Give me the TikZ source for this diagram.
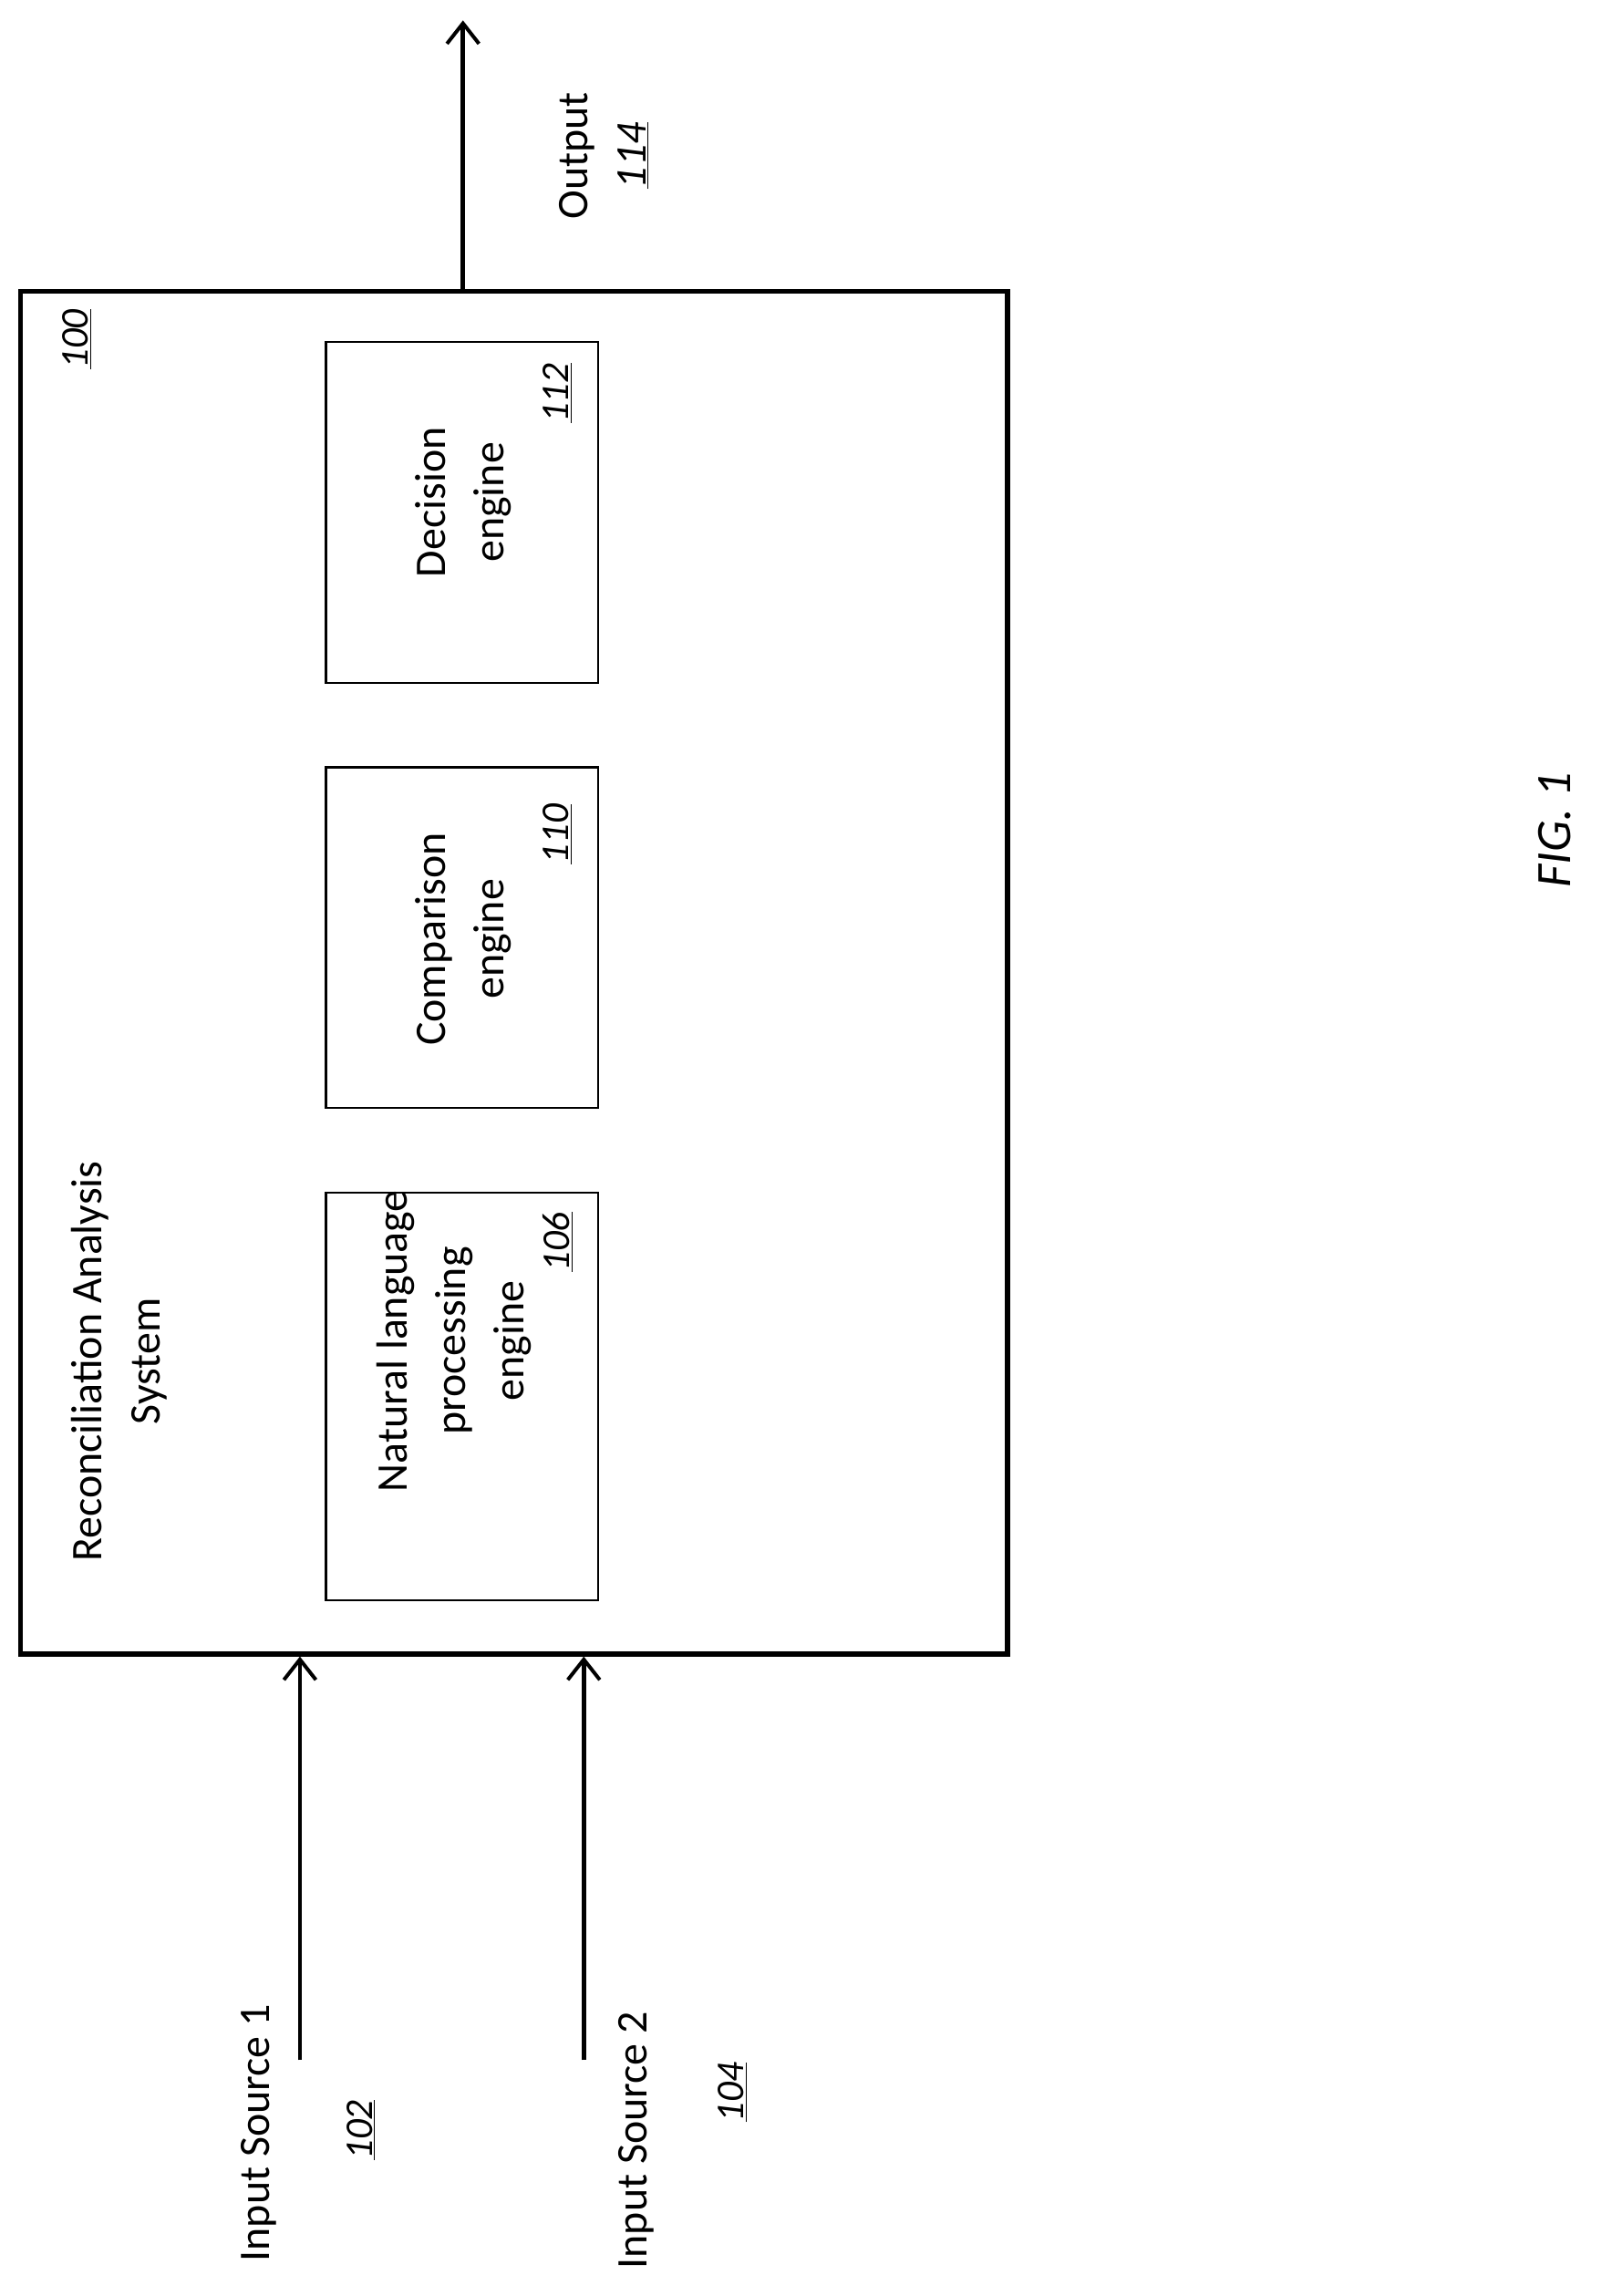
\documentclass[tikz,border=0pt]{standalone}
\usepackage{fontspec}
\setmainfont{Carlito}
\usetikzlibrary{arrows.meta}
\begin{document}
\begin{tikzpicture}[x=1pt,y=-1pt,
  txt/.style={rotate=90,align=center,font=\fontsize{30}{40}\selectfont},
  num/.style={rotate=90,font=\fontsize{27}{32}\selectfont\itshape},
  box/.style={draw,line width=1.5pt},
  arr/.style={line width=3pt,-{Straight Barb[length=14pt,width=22pt,line width=2.5pt]}}]
\useasboundingbox (0,0) rectangle (1100,1577);
\node[draw,line width=3.5pt,minimum width=678,minimum height=936,inner sep=0] (sys) at (353,668) {};
\node[box,minimum width=187,minimum height=280,inner sep=0] (nlp) at (317.5,959) {};
\node[box,minimum width=187,minimum height=234,inner sep=0] (cmp) at (317.5,644) {};
\node[box,minimum width=187,minimum height=234,inner sep=0] (dec) at (317.5,352) {};
\node[txt] at (312,921) {Natural language\\processing\\engine};
\node[txt] at (318,645) {Comparison\\engine};
\node[txt] at (318,345) {Decision\\engine};
\node[num] at (383,853) {\underline{106}};
\node[num] at (383,573) {\underline{110}};
\node[num] at (383,270) {\underline{112}};
\node[txt] at (82,935) {Reconciliation Analysis\\System};
\node[num] at (53,233) {\underline{100}};
\coordinate (out) at (318,14);
\draw[arr] (sys.north -| out) -- (out);
\node[txt] at (415,107) {Output\\\textit{\underline{114}}};
\coordinate (i1) at (206,1415);
\coordinate (i2) at (401,1415);
\draw[arr] (i1) -- (i1 |- sys.south);
\draw[arr] (i2) -- (i2 |- sys.south);
\node[txt] at (178,1465) {Input Source 1};
\node[num] at (248,1463) {\underline{102}};
\node[txt] at (437,1470) {Input Source 2};
\node[num] at (503,1437) {\underline{104}};
\node[rotate=90,font=\fontsize{34}{40}\selectfont\itshape] at (1068,570) {FIG. 1};
\end{tikzpicture}
\end{document}
